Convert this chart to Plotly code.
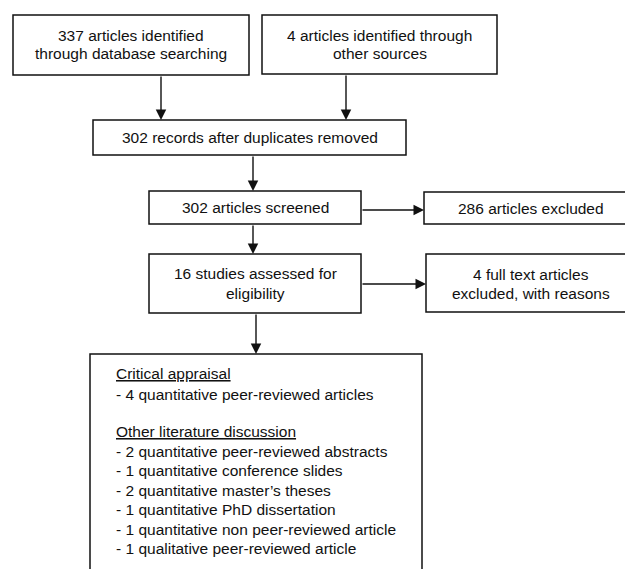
import plotly.graph_objects as go

# ---- content (texts of the flow diagram) ----
box_ids = ["db", "other", "dedup", "screened", "excl1", "assessed", "excl2", "final"]
box_lines = [
    ["337 articles identified", "through database searching"],
    ["4 articles identified through", "other sources"],
    ["302 records after duplicates removed"],
    ["302 articles screened"],
    ["286 articles excluded"],
    ["16 studies assessed for", "eligibility"],
    ["4 full text articles", "excluded, with reasons"],
]
final_heading_1 = "Critical appraisal"
final_items_1 = ["- 4 quantitative peer-reviewed articles"]
final_heading_2 = "Other literature discussion"
final_items_2 = [
    "- 2 quantitative peer-reviewed abstracts",
    "- 1 quantitative conference slides",
    "- 2 quantitative master\u2019s theses",
    "- 1 quantitative PhD dissertation",
    "- 1 quantitative non peer-reviewed article",
    "- 1 qualitative peer-reviewed article",
]
edges = [("db", "dedup"), ("other", "dedup"), ("dedup", "screened"),
         ("screened", "excl1"), ("screened", "assessed"),
         ("assessed", "excl2"), ("assessed", "final")]

# ---- layout geometry (page pixels, y down) ----
W, H = 633, 569
OFF = 8  # default page body margin
BOTTOM = H
geom = {  # x0, y0, x1, y1
    "db": (13, 15, 249, 75),
    "other": (262, 15, 497, 74),
    "dedup": (93, 120, 406, 155),
    "screened": (149, 191, 361, 224),
    "excl1": (424, 192, 660, 224),
    "assessed": (149, 254, 361, 313),
    "excl2": (426, 254, 660, 312),
    "final": (90, 354, 422, 600),
}
open_right = {"excl1", "excl2"}
open_bottom = {"final"}
arrows = {  # (tail x, tail y, head x, head y)
    ("db", "dedup"): (161, 75, 161, 120),
    ("other", "dedup"): (346, 74, 346, 120),
    ("dedup", "screened"): (253, 155, 253, 191),
    ("screened", "excl1"): (361, 210, 424, 210),
    ("screened", "assessed"): (253, 224, 253, 254),
    ("assessed", "excl2"): (361, 284, 426, 284),
    ("assessed", "final"): (256, 313, 256, 354),
}
line_y = {
    "db": [35, 53], "other": [35, 53], "dedup": [137.5], "screened": [207.5],
    "excl1": [208], "assessed": [273, 293], "excl2": [274, 293],
}
text_cx = {"excl1": 531, "excl2": 531}

FONT = dict(family="Liberation Sans, Arial, sans-serif", size=15.5, color="#111111")
LINE = dict(color="#111111", width=1.5)

fig = go.Figure()
fig.add_trace(go.Scatter(x=[OFF, W], y=[OFF, BOTTOM], mode="markers",
                         marker=dict(opacity=0), hoverinfo="skip", showlegend=False))

shapes = []
for bid in box_ids:
    x0, y0, x1, y1 = geom[bid]
    if bid in open_right:
        path = f"M {x1},{y0} L {x0},{y0} L {x0},{y1} L {x1},{y1}"
    elif bid in open_bottom:
        path = f"M {x0},{y1} L {x0},{y0} L {x1},{y0} L {x1},{y1}"
    else:
        path = f"M {x0},{y0} L {x1},{y0} L {x1},{y1} L {x0},{y1} Z"
    shapes.append(dict(type="path", path=path, xref="x", yref="y",
                       line=LINE, layer="below"))

annotations = []
for bid, lines in zip(box_ids[:-1], box_lines):
    x0, y0, x1, y1 = geom[bid]
    cx = text_cx.get(bid, (x0 + x1) / 2)
    for t, yy in zip(lines, line_y[bid]):
        annotations.append(dict(x=cx, y=yy, xref="x", yref="y", text=t, showarrow=False,
                                xanchor="center", yanchor="middle", font=FONT))

fx = 114
final_rows = ([("<u>" + final_heading_1 + "</u>", 373)]
              + [(t, 394) for t in final_items_1]
              + [("<u>" + final_heading_2 + "</u>", 431)])
ys2 = [451, 470.5, 490, 509.5, 529, 548.5]
final_rows += list(zip(final_items_2, ys2))
for t, yy in final_rows:
    annotations.append(dict(x=fx, y=yy, xref="x", yref="y", text=t, showarrow=False,
                            xanchor="left", yanchor="middle", font=FONT))

for e in edges:
    tx, ty, hx, hy = arrows[e]
    annotations.append(dict(x=hx, y=hy, ax=tx, ay=ty, xref="x", yref="y",
                            axref="x", ayref="y", text="", showarrow=True,
                            arrowhead=2, arrowsize=1.5, arrowwidth=1.4,
                            arrowcolor="#111111", standoff=0, startstandoff=0))

fig.update_layout(
    width=W - OFF, height=BOTTOM - OFF, margin=dict(l=0, r=0, t=0, b=0),
    paper_bgcolor="white", plot_bgcolor="white",
    xaxis=dict(range=[OFF, W], visible=False, fixedrange=True),
    yaxis=dict(range=[BOTTOM, OFF], visible=False, fixedrange=True),
    shapes=shapes, annotations=annotations, showlegend=False,
)
fig.write_html("out.html", config={"displayModeBar": False})
